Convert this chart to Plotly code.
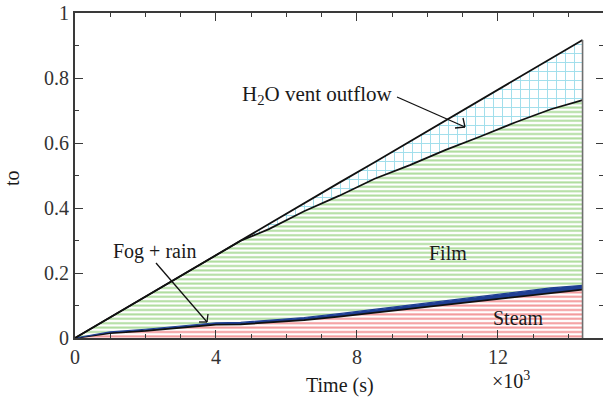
import plotly.graph_objects as go

# Time axis (s) and cumulative water-distribution fractions
time_s = [0, 1000, 2000, 3000, 4000, 4700, 5500, 6500, 7500, 8500,
          9500, 10500, 11500, 12500, 13500, 14400]
total = [0.0, 0.064, 0.127, 0.191, 0.255, 0.299, 0.350, 0.414, 0.478, 0.541,
         0.605, 0.669, 0.732, 0.796, 0.860, 0.917]
film_top = [0.0, 0.064, 0.127, 0.191, 0.255, 0.299, 0.335, 0.390, 0.438, 0.490,
            0.532, 0.578, 0.620, 0.664, 0.704, 0.732]
steam_top = [0.0, 0.015, 0.022, 0.032, 0.041, 0.042, 0.047, 0.055, 0.066, 0.078,
             0.091, 0.103, 0.115, 0.127, 0.139, 0.149]
fog_top = [0.0, 0.019, 0.027, 0.037, 0.047, 0.048, 0.054, 0.063, 0.075, 0.088,
           0.102, 0.115, 0.128, 0.141, 0.154, 0.162]

x_ticks = [0, 4000, 8000, 12000]
x_ticklabels = ["0", "4", "8", "12"]
y_ticks = [0, 0.2, 0.4, 0.6, 0.8, 1.0]
y_ticklabels = ["0", "0.2", "0.4", "0.6", "0.8", "1"]

W, H = 603, 400
ML, MR, MT, MB = 75, 0, 13, 62
XMAX = 14980
PW, PH = W - ML - MR, H - MT - MB

FONT = "Liberation Serif, serif"
AX = "#3a3a3a"


def px_x(px):
    """Page pixel column -> time value."""
    return (px - ML) * XMAX / PW


def px_y(py):
    """Page pixel row -> fraction value."""
    return (H - MB - py) / PH


def pp_x(px):
    return (px - ML) / PW


def pp_y(py):
    return (H - MB - py) / PH


fig = go.Figure()

# Steam (red hatch) from zero
fig.add_trace(go.Scatter(
    x=time_s, y=steam_top, mode="lines", fill="tozeroy",
    line=dict(color="#111111", width=1.8),
    fillpattern=dict(shape="-", size=4.4, solidity=0.45,
                     fgcolor="#e62e33", bgcolor="white"),
    hoverinfo="skip", showlegend=False))

# Fog + rain (thin solid blue band)
fig.add_trace(go.Scatter(
    x=time_s, y=fog_top, mode="lines", fill="tonexty",
    fillcolor="#1f3f94", line=dict(color="#1f3f94", width=1.2),
    hoverinfo="skip", showlegend=False))

# Film (green hatch)
fig.add_trace(go.Scatter(
    x=time_s, y=film_top, mode="lines", fill="tonexty",
    line=dict(color="#111111", width=1.7),
    fillpattern=dict(shape="-", size=4.4, solidity=0.45,
                     fgcolor="#5cb83a", bgcolor="white"),
    hoverinfo="skip", showlegend=False))

# H2O vent outflow (cyan grid)
fig.add_trace(go.Scatter(
    x=time_s, y=total, mode="lines", fill="tonexty",
    line=dict(color="#111111", width=1.8),
    fillpattern=dict(shape="+", size=9, solidity=0.2,
                     fgcolor="#3dbcd6", bgcolor="white"),
    hoverinfo="skip", showlegend=False))

# Closing edge at the last time step
fig.add_trace(go.Scatter(
    x=[time_s[-1], time_s[-1]], y=[0, total[-1]], mode="lines",
    line=dict(color="#6e6e6e", width=1.6),
    hoverinfo="skip", showlegend=False))

annotations = []
shapes = []


def text(px, py, s, xanchor="center", angle=0, size=20):
    annotations.append(dict(
        x=pp_x(px), y=pp_y(py), xref="paper", yref="paper", text=s,
        showarrow=False, xanchor=xanchor, yanchor="middle", textangle=angle,
        font=dict(family=FONT, size=size, color="#1a1a1a")))


def arrow(tail, head, barbs):
    shapes.append(dict(type="line", xref="x", yref="y",
                       x0=px_x(tail[0]), y0=px_y(tail[1]),
                       x1=px_x(head[0]), y1=px_y(head[1]),
                       line=dict(color="#111111", width=1.3)))
    for b in barbs:
        shapes.append(dict(type="line", xref="x", yref="y",
                           x0=px_x(b[0]), y0=px_y(b[1]),
                           x1=px_x(head[0]), y1=px_y(head[1]),
                           line=dict(color="#111111", width=1.3)))


text(394, 95, "H<sub>2</sub>O vent outflow", xanchor="right", size=21)
arrow((397, 97), (465, 127), [(463, 118), (455, 128)])
text(155, 252, "Fog + rain")
arrow((156, 263), (207, 322), [(208, 314), (199, 322)])
text(448, 253, "Film")
text(518, 318, "Steam")
text(340, 385, "Time (s)")
text(511, 380, "×10<sup>3</sup>")
text(12, 178, "to", angle=-90)

tickfont = dict(family=FONT, size=20, color="#333333")

fig.update_layout(
    width=W, height=H, autosize=False,
    font=dict(family=FONT),
    margin=dict(l=ML, r=MR, t=MT, b=MB, pad=0),
    paper_bgcolor="white", plot_bgcolor="white",
    annotations=annotations, shapes=shapes,
    xaxis=dict(range=[0, XMAX], tickvals=x_ticks, ticktext=x_ticklabels,
               ticks="inside", ticklen=8, tickwidth=1.4, tickcolor=AX,
               showline=True, linewidth=2, linecolor=AX, mirror="ticks",
               showgrid=False, zeroline=False, tickfont=tickfont,
               minor=dict(dtick=1000, tick0=0, ticks="inside", ticklen=4,
                          tickwidth=1.2, tickcolor=AX, showgrid=False)),
    yaxis=dict(range=[0, 1], tickvals=y_ticks, ticktext=y_ticklabels,
               ticks="inside", ticklen=8, tickwidth=1.4, tickcolor=AX,
               showline=True, linewidth=2, linecolor=AX, mirror=False,
               showgrid=False, zeroline=False, tickfont=tickfont,
               minor=dict(dtick=0.1, tick0=0, ticks="inside", ticklen=4,
                          tickwidth=1.2, tickcolor=AX, showgrid=False)),
    # right-hand tick marks without a drawn axis line
    yaxis2=dict(overlaying="y", side="right", matches="y", range=[0, 1],
                tickvals=y_ticks, showticklabels=False,
                ticks="inside", ticklen=7, tickwidth=1.4, tickcolor=AX,
                showline=False, showgrid=False, zeroline=False,
                minor=dict(dtick=0.1, tick0=0, ticks="inside", ticklen=4,
                           tickwidth=1.2, tickcolor=AX, showgrid=False)),
)

# invisible trace so the right-hand axis is rendered
fig.add_trace(go.Scatter(x=[0], y=[0], yaxis="y2", mode="markers",
                         marker=dict(opacity=0), hoverinfo="skip",
                         showlegend=False))

fig.write_html("out.html")
